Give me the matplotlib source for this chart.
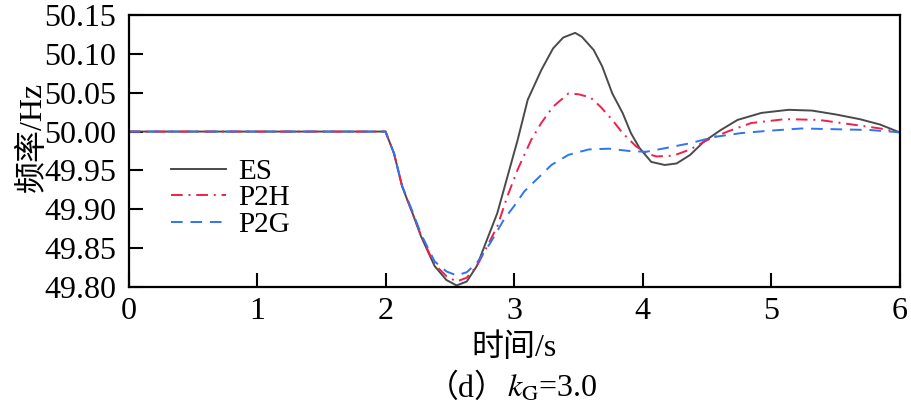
import numpy as np
import matplotlib
matplotlib.use('Agg')
import matplotlib.pyplot as plt

plt.rcParams['font.family'] = ['Liberation Serif', 'Noto Sans CJK SC']
plt.rcParams['mathtext.fontset'] = 'stix'

# 数据
t_es = [0.0, 2.0, 2.066, 2.13, 2.21, 2.277, 2.382, 2.474, 2.553, 2.632, 2.711, 2.79,
        2.87, 2.949, 3.028, 3.107, 3.212, 3.304, 3.383, 3.476, 3.528, 3.62, 3.686,
        3.765, 3.845, 3.91, 3.976, 4.068, 4.173, 4.266, 4.371, 4.477, 4.609, 4.74,
        4.925, 5.136, 5.32, 5.505, 5.69, 5.85, 6.0]
f_es = [50.0, 50.0, 49.972, 49.929, 49.895, 49.865, 49.827, 49.809, 49.802, 49.807,
        49.827, 49.861, 49.895, 49.942, 49.989, 50.041, 50.079, 50.107, 50.121, 50.127,
        50.122, 50.105, 50.084, 50.049, 50.024, 49.998, 49.979, 49.961, 49.957, 49.959,
        49.97, 49.987, 50.002, 50.015, 50.024, 50.028, 50.027, 50.022, 50.016, 50.009,
        49.999]

t_p2h = [0.0, 2.0, 2.066, 2.13, 2.21, 2.277, 2.382, 2.474, 2.553, 2.632, 2.711, 2.79,
         2.87, 2.949, 3.028, 3.133, 3.212, 3.304, 3.423, 3.502, 3.594, 3.673, 3.765,
         3.845, 3.95, 4.029, 4.108, 4.24, 4.371, 4.503, 4.661, 4.846, 5.11, 5.373,
         5.636, 5.85, 6.0]
f_p2h = [50.0, 50.0, 49.972, 49.929, 49.895, 49.866, 49.829, 49.814, 49.807, 49.812,
         49.827, 49.852, 49.878, 49.917, 49.951, 49.989, 50.011, 50.032, 50.049, 50.048,
         50.044, 50.032, 50.015, 49.998, 49.981, 49.972, 49.968, 49.969, 49.977, 49.989,
         50.0, 50.011, 50.016, 50.015, 50.009, 50.004, 49.999]

t_p2g = [0.0, 2.0, 2.066, 2.13, 2.21, 2.277, 2.382, 2.474, 2.553, 2.632, 2.711, 2.817,
         2.922, 3.0, 3.08, 3.186, 3.291, 3.423, 3.581, 3.739, 3.897, 4.029, 4.187,
         4.371, 4.556, 4.767, 4.978, 5.24, 5.505, 5.77, 6.0]
f_p2g = [50.0, 50.0, 49.972, 49.93, 49.897, 49.868, 49.833, 49.82, 49.815, 49.819,
         49.831, 49.857, 49.887, 49.904, 49.923, 49.94, 49.957, 49.97, 49.977, 49.978,
         49.975, 49.974, 49.979, 49.985, 49.993, 49.998, 50.001, 50.004, 50.003, 50.002,
         49.999]

x_ticks = [0, 1, 2, 3, 4, 5, 6]
y_ticks = [49.80, 49.85, 49.90, 49.95, 50.00, 50.05, 50.10, 50.15]

fig = plt.figure(figsize=(9.11, 4.16), dpi=100)
ax = fig.add_axes([128.5 / 911, 129 / 416, 771 / 911, 272 / 416])

ax.plot(t_es, f_es, color='#4a4a4a', linewidth=1.4, linestyle='-', label='ES')
ax.plot(t_p2h, f_p2h, color='#f0204a', linewidth=1.4, linestyle=(0, (6, 3, 1, 3)), label='P2H')
ax.plot(t_p2g, f_p2g, color='#2f74f0', linewidth=1.4, linestyle=(0, (6, 4)), label='P2G')

ax.set_xlim(0, 6)
ax.set_ylim(49.80, 50.15)
ax.set_xticks(x_ticks)
ax.set_yticks(y_ticks)
ax.set_yticklabels([f'{v:.2f}' for v in y_ticks])
ax.tick_params(direction='in', length=10, width=1.5, labelsize=23, top=False, right=False)
ax.tick_params(axis='y', pad=9)
ax.tick_params(axis='x', pad=7)
for s in ax.spines.values():
    s.set_linewidth(1.6)

ax.set_ylabel('频率/Hz', fontsize=23)
ax.yaxis.set_label_coords(-0.105, 0.55)
ax.set_xlabel('时间/s', fontsize=23)
ax.xaxis.set_label_coords(0.5, -0.17)

# 图注：（d）kG=3.0
fig.text(507 / 911, 1 - 389 / 416, '（d）', fontsize=23, ha='right', va='center')
fig.text(507 / 911, 1 - 389 / 416, '$k_{\\mathrm{G}}$=3.0', fontsize=23,
         ha='left', va='center')

ax.legend(loc='upper left', bbox_to_anchor=(0.04, 0.515), frameon=False, fontsize=21,
          handlelength=1.9, handletextpad=0.4, labelspacing=0.0, borderaxespad=0)

fig.savefig('out.png', dpi=100)
